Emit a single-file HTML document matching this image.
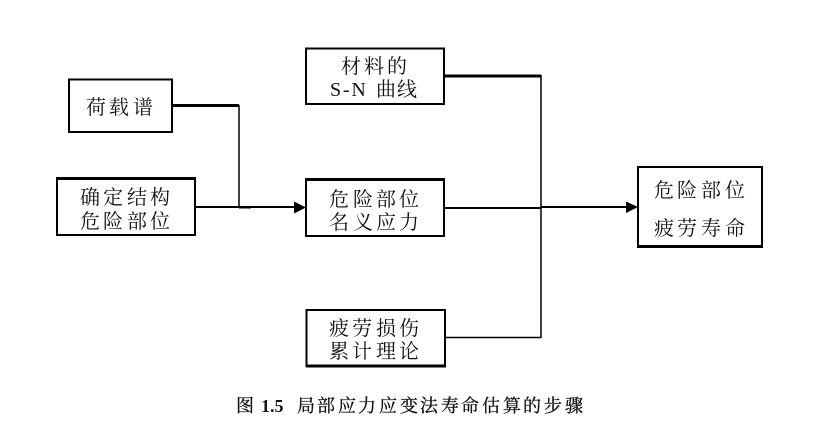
<!DOCTYPE html>
<html><head><meta charset="utf-8">
<style>
html,body{margin:0;padding:0;background:#fff}
svg{display:block}
text{font-family:"Liberation Serif","Noto Serif CJK SC",serif;font-size:20px;fill:#111}
.c{font-size:18px;stroke:#111;stroke-width:.3px}
.b{font-size:18px;font-weight:700}
</style></head>
<body>
<svg width="825" height="430" viewBox="0 0 825 430" xmlns="http://www.w3.org/2000/svg">
<g fill="none" stroke="#000">
<rect x="69" y="79.5" width="103" height="52.5" stroke-width="2"/>
<rect x="57" y="178.5" width="138" height="56.5" stroke-width="2"/>
<path d="M56 178.500H196" stroke-width="3"/>
<rect x="306" y="48.5" width="138" height="55.5" stroke-width="2"/>
<rect x="306" y="179.5" width="138" height="56.5" stroke-width="2"/>
<path d="M305 179.500H445" stroke-width="3"/>
<rect x="306.500" y="310" width="138.500" height="56" stroke-width="2"/>
<path d="M306 366H446" stroke-width="3"/>
<rect x="638" y="167" width="124" height="80" stroke-width="2"/>
<path d="M637 246.500H763" stroke-width="3"/>
<path d="M172 105.500H239" stroke-width="3"/>
<path d="M239 105V207" stroke-width="1.500"/>
<path d="M195 207H294" stroke-width="2"/>
<path d="M239 207.500H251" stroke-width="2"/>
<path d="M444 76H541" stroke-width="3"/>
<path d="M541 75V338" stroke-width="1.500"/>
<path d="M444 208H541" stroke-width="2"/>
<path d="M445 337.500H541" stroke-width="1.500"/>
<path d="M541 207H627" stroke-width="2"/>
</g>
<path d="M294 201.500L306 207.500L294 213.500Z" fill="#000"/>
<path d="M626 201.500L638 207L626 213Z" fill="#000"/>

<text x="86 109 133" y="114">荷载谱</text>
<text x="80 103 127 150" y="204">确定结构</text>
<text x="80 103 127 150" y="228">危险部位</text>
<text x="341 364 387" y="73">材料的</text>
<text x="330" y="96" style="letter-spacing:1.800px">S-N</text>
<text x="376 397" y="96">曲线</text>
<text x="329 353 376 399" y="206">危险部位</text>
<text x="329 353 376 399" y="229">名义应力</text>
<text x="329 352 376 399" y="335">疲劳损伤</text>
<text x="329 352 376 399" y="358">累计理论</text>
<text x="654 677 701 725" y="197">危险部位</text>
<text x="654 677 701 725" y="235">疲劳寿命</text>

<text class="c" x="236" y="412">图</text>
<text class="b" x="261" y="412">1.5</text>
<text class="c" x="297 317 338 358 379 400 420 441 461 482 503 523 544 565" y="412">局部应力应变法寿命估算的步骤</text>
</svg>
</body></html>
